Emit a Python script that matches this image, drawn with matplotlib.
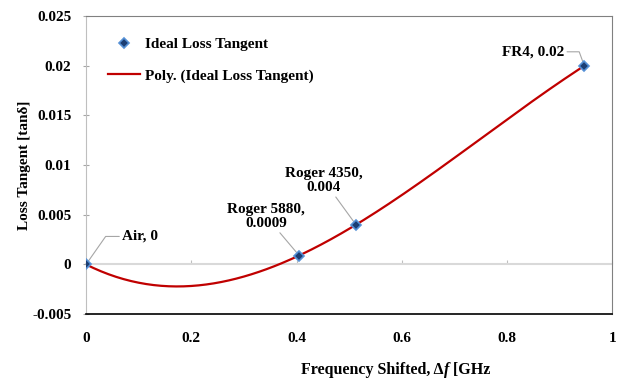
import numpy as np
import matplotlib
matplotlib.use("Agg")
import matplotlib.pyplot as plt
from matplotlib.ticker import FuncFormatter

# measured points (frequency shift in GHz, loss tangent)
freq_shift = [0.0, 0.405, 0.513, 0.947]
loss_tan = [0.0, 0.0009, 0.004, 0.02]
point_names = ["Air, 0", "Roger 5880,\n0.0009", "Roger 4350,\n0.004", "FR4, 0.02"]

x_ticks = [0, 0.2, 0.4, 0.6, 0.8, 1]
y_ticks = [-0.005, 0, 0.005, 0.01, 0.015, 0.02, 0.025]

# x label pieces: (text, style)
xlabel_parts = [("Frequency Shifted, Δ", "normal"), ("f", "italic"), (" [GHz", "normal")]

plt.rcParams["font.family"] = "Liberation Serif"
plt.rcParams["font.weight"] = "bold"
plt.rcParams["axes.labelweight"] = "bold"

FS = 11

fig = plt.figure(figsize=(6.19, 3.84), dpi=100)
ax = fig.add_axes([0.139, 0.182, 0.85, 0.776])

# polynomial trendline through the four points
coef = np.polyfit(freq_shift, loss_tan, 3)
xs = np.linspace(freq_shift[0], freq_shift[-1], 200)
ax.plot(xs, np.polyval(coef, xs), color="#c00000", lw=1.6,
        label="Poly. (Ideal Loss Tangent)", zorder=3)
ax.plot(freq_shift, loss_tan, ls="none", marker="D", ms=5.5,
        mfc="#1b3d73", mec="#5590d6", mew=1.2, label="Ideal Loss Tangent", zorder=4)

ax.set_xlim(0, 1)
ax.set_ylim(-0.005, 0.025)
ax.set_xticks(x_ticks)
ax.set_yticks(y_ticks)
ax.xaxis.set_major_formatter(FuncFormatter(lambda v, p: f"{v:g}"))
ax.yaxis.set_major_formatter(FuncFormatter(lambda v, p: f"{v:g}"))
ax.tick_params(axis="x", length=0, pad=13, labelsize=FS)
ax.tick_params(axis="y", direction="inout", length=5, color="#a6a6a6", labelsize=FS, pad=8)

for side in ["top", "right"]:
    ax.spines[side].set_color("#808080")
ax.spines["left"].set_color("#bfbfbf")
ax.spines["bottom"].set_color("black")
ax.spines["bottom"].set_linewidth(1.2)

# horizontal axis crossing at zero
zero_ax = ax.secondary_xaxis(0.005 / 0.03)
zero_ax.set_xticks(x_ticks)
zero_ax.tick_params(axis="x", direction="in", length=3, color="#bfbfbf", labelbottom=False)
zero_ax.spines["bottom"].set_color("#d9d9d9")
zero_ax.spines["bottom"].set_linewidth(1.5)

# data labels with leader lines
lead = dict(arrowstyle="-", color="#a6a6a6", lw=0.8, shrinkA=0, shrinkB=3)
ax.annotate(point_names[0], (freq_shift[0], loss_tan[0]), xytext=(36, 28),
            textcoords="offset pixels", fontsize=FS, ha="left", va="center",
            arrowprops=dict(lead, connectionstyle="angle,angleA=0,angleB=55,rad=0"))
ax.annotate(point_names[1], (freq_shift[1], loss_tan[1]), xytext=(-33, 39),
            textcoords="offset pixels", fontsize=FS, ha="center", va="center",
            linespacing=1.1, arrowprops=lead)
ax.annotate(point_names[2], (freq_shift[2], loss_tan[2]), xytext=(-32, 44),
            textcoords="offset pixels", fontsize=FS, ha="center", va="center",
            linespacing=1.1, arrowprops=lead)
ax.annotate(point_names[3], (freq_shift[3], loss_tan[3]), xytext=(-20, 14),
            textcoords="offset pixels", fontsize=FS, ha="right", va="center",
            arrowprops=dict(lead, connectionstyle="angle,angleA=0,angleB=-70,rad=0"))

h, l = ax.get_legend_handles_labels()
ax.legend(h[::-1], l[::-1], loc="upper left", frameon=False, fontsize=FS,
          labelspacing=1.17, handlelength=2.1, handletextpad=0.3,
          borderpad=0, borderaxespad=0, bbox_to_anchor=(0.042, 0.928))

ax.set_ylabel("Loss Tangent [tanδ]", fontsize=FS, labelpad=1)

# x label built from pieces so only the "f" is italic, centred at x=396px
renderer = fig.canvas.get_renderer()
pieces = [fig.text(0, 1 - 374 / 384, s, style=st, fontsize=11.5, va="baseline")
          for s, st in xlabel_parts]
widths = [p.get_window_extent(renderer).width for p in pieces]
x = 396 - sum(widths) / 2
for p, w in zip(pieces, widths):
    p.set_x(x / 619)
    x += w

fig.savefig("out.png", dpi=100)
